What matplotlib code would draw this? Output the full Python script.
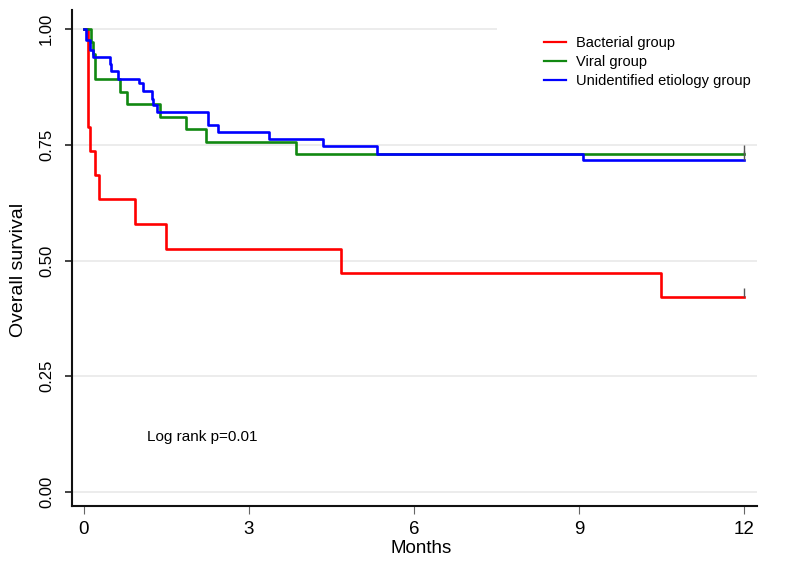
import matplotlib
matplotlib.use("Agg")
from matplotlib import pyplot as plt

plt.rcParams['font.family'] = ['Liberation Sans', 'DejaVu Sans']

# Kaplan-Meier step points (months, survival)
bact_t = [0, 0.08, 0.11, 0.20, 0.27, 0.93, 1.49, 4.67, 10.49, 12]
bact_s = [1.0, 0.789, 0.737, 0.684, 0.632, 0.579, 0.526, 0.474, 0.421, 0.421]

viral_t = [0, 0.13, 0.16, 0.20, 0.65, 0.79, 1.38, 1.85, 2.21, 3.85, 12]
viral_s = [1.0, 0.973, 0.946, 0.892, 0.865, 0.838, 0.811, 0.784, 0.757, 0.730, 0.730]

unid_t = [0, 0.04, 0.11, 0.16, 0.47, 0.50, 0.61, 1.00, 1.07, 1.23, 1.26, 1.32,
          2.26, 2.44, 3.36, 4.35, 5.33, 9.07, 12]
unid_s = [1.0, 0.977, 0.955, 0.940, 0.924, 0.909, 0.893, 0.883, 0.866, 0.850,
          0.836, 0.821, 0.792, 0.777, 0.762, 0.747, 0.731, 0.717, 0.717]

groups = ["Bacterial group", "Viral group", "Unidentified etiology group"]
colors = ["#ff0000", "#118811", "#0000ff"]

xticks = [0, 3, 6, 9, 12]
yticks = [0.0, 0.25, 0.5, 0.75, 1.0]
ytick_labels = ["0.00", "0.25", "0.50", "0.75", "1.00"]

fig = plt.figure(figsize=(8, 5.66), dpi=100)
ax = fig.add_axes([0.09, 0.106, 0.856, 0.876])

curves = [(bact_t, bact_s), (viral_t, viral_s), (unid_t, unid_s)]
for (t, s), name, c in zip(curves, groups, colors):
    ax.plot(t, s, drawstyle='steps-post', color=c, lw=1.9, label=name, zorder=3)
    # censor tick at end of follow-up
    ax.vlines(t[-1], s[-1], s[-1] + 0.02, color="#555555", lw=1, zorder=4)

ax.set_xlim(-0.218, 12.236)
ax.set_ylim(-0.0302, 1.041)

for y in yticks:
    ax.axhline(y, color="#ebebeb", lw=1.3, zorder=1)

ax.set_xticks(xticks)
ax.set_xticklabels([str(x) for x in xticks], fontsize=13.5)
ax.set_yticks(yticks)
ax.set_yticklabels(ytick_labels, rotation=90, va='center', fontsize=12)

ax.tick_params(axis='x', length=6, width=0.8, color="#666666", pad=5)
ax.tick_params(axis='y', length=5, width=1.2, color="#222222", pad=8)

for side in ['top', 'right']:
    ax.spines[side].set_visible(False)
for side in ['left', 'bottom']:
    ax.spines[side].set_linewidth(1.5)
    ax.spines[side].set_color("#111111")

ax.set_xlabel("Months", fontsize=13.5)
ax.xaxis.set_label_coords(0.51, -0.068)
ax.set_ylabel("Overall survival", fontsize=14)
ax.yaxis.set_label_coords(-0.066, 0.476)

ax.text(1.15, 0.119, "Log rank p=0.01", fontsize=11, va='center', ha='left')

leg = ax.legend(loc='upper left', bbox_to_anchor=(497 / 800, 1.019),
                bbox_transform=fig.transFigure, fontsize=10.5, frameon=True,
                fancybox=False, edgecolor='none', facecolor='white', framealpha=1,
                borderpad=3.2, handlelength=1.5, handletextpad=0.75,
                labelspacing=0.36, borderaxespad=0)
for line in leg.get_lines():
    line.set_linewidth(1.6)
leg.set_zorder(5)

plt.savefig("out.png", dpi=100)
